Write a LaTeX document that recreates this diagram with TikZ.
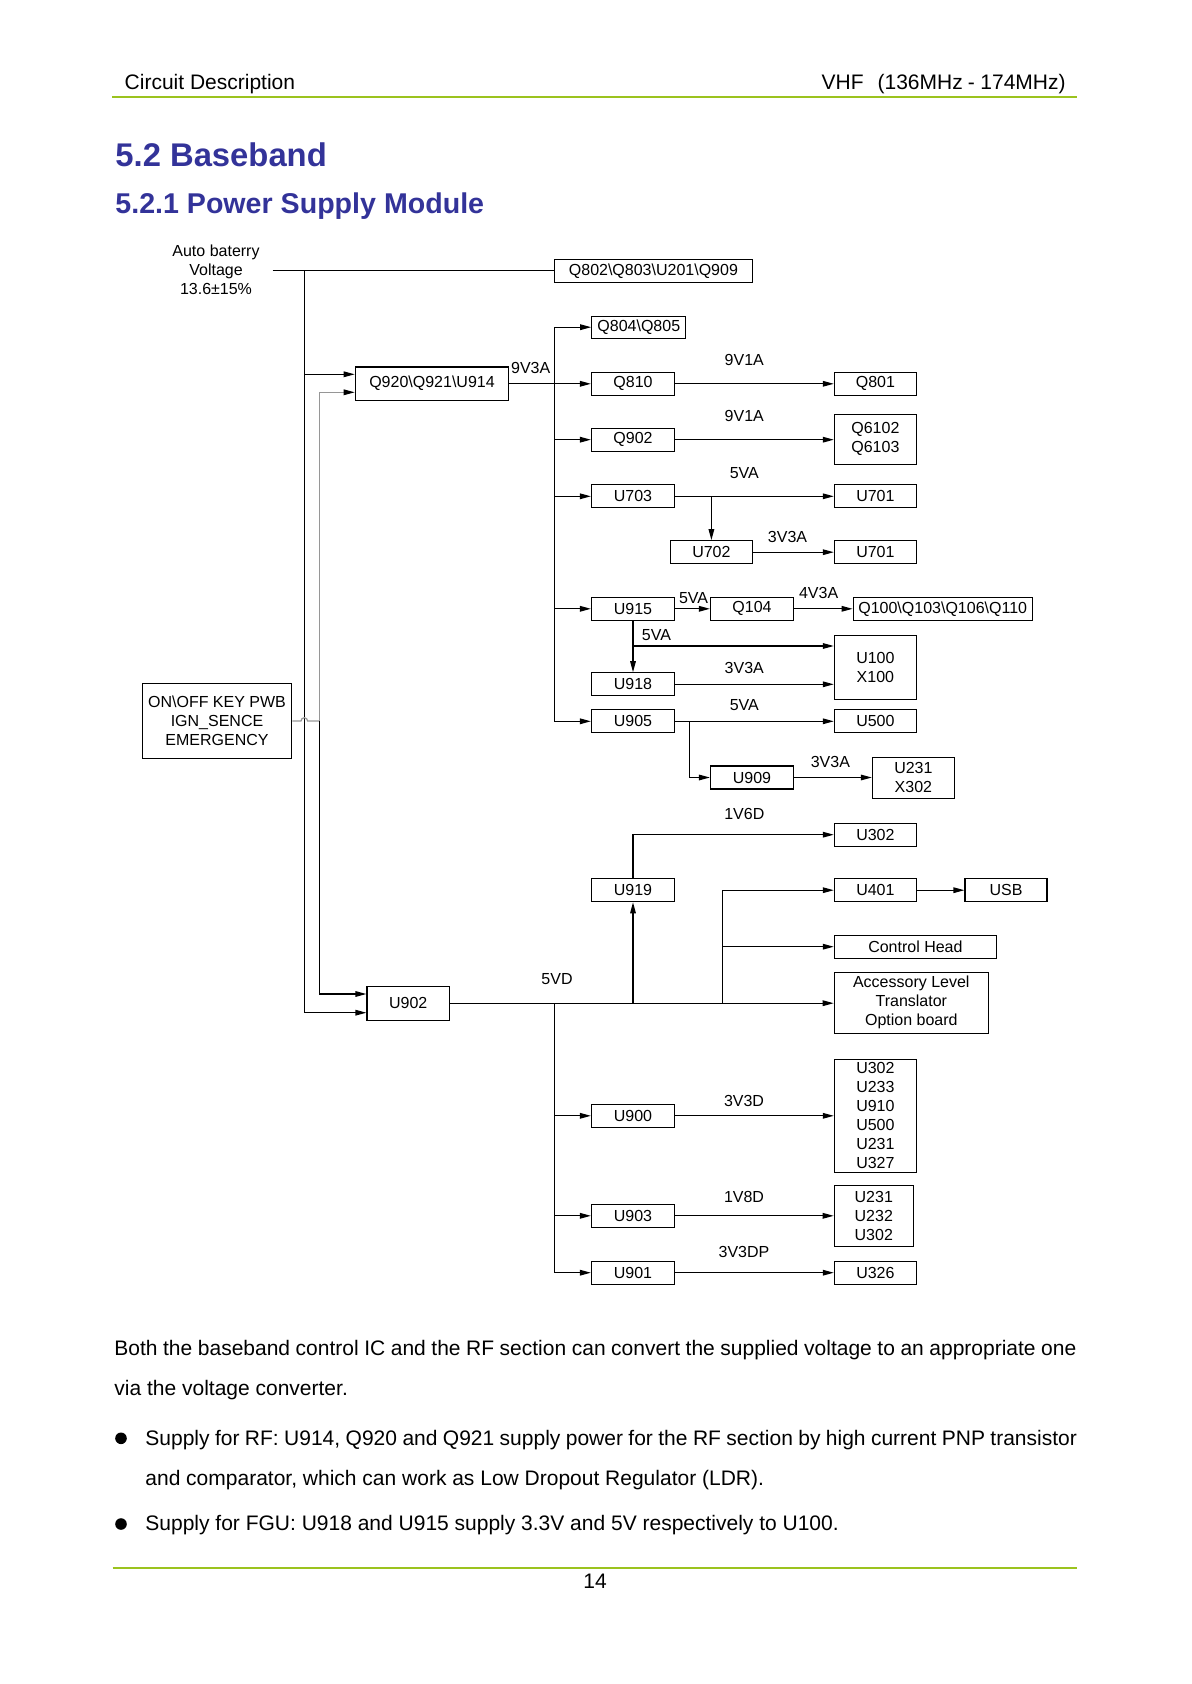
\documentclass[tikz,border=0pt]{standalone}
\usepackage{fontspec}
\setmainfont{Liberation Sans}
\usepackage{tikz}
\usetikzlibrary{positioning, arrows.meta, calc}
\definecolor{hdrgreen}{RGB}{155,195,30}
\definecolor{titleblue}{RGB}{51,51,153}
\definecolor{wiregray}{RGB}{150,150,150}
\newcommand{\bsl}{\textbackslash}
\tikzset{
	blk/.style={draw, line width=0.6pt, inner sep=0pt, minimum width=41.5pt, minimum height=11.5pt, align=center, font=\fontsize{8}{9.5}\selectfont},
	lbl/.style={inner sep=0pt, font=\fontsize{8}{9.5}\selectfont},
	conn/.style={line width=0.6pt, -{Triangle[length=5.5pt,width=2.8pt,color=black]}},
	wire/.style={line width=0.6pt},
	body/.style={inner sep=0pt, anchor=base west, font=\fontsize{10.5}{20}\selectfont},
}

\begin{document}
\begin{tikzpicture}[x=0.5pt, y=-0.5pt]
		\useasboundingbox (0,0) rectangle (1191,1684);
		% page head
		\node[body] (hdl) at (124.3,89.5) {Circuit Description};
		\node[body, anchor=base east] (hdr) at (1066,89.5) {VHF\hspace{7pt}(136MHz\hspace{2.5pt}-\hspace{2.8pt}174MHz)};
		\draw[hdrgreen, line width=1pt] (112.3,96.7) -- (1076.7,96.7);
		\node[body, font=\fontsize{16.4}{19}\selectfont\bfseries, text=titleblue] (sec) at (115,166.7) {5.2 Baseband};
		\node[body, font=\fontsize{14.3}{17}\selectfont\bfseries, text=titleblue] (subsec) at (115,214) {5.2.1 Power Supply Module};

		% sources
		\node[lbl, align=center] (bat) at (216,270) {Auto baterry\\Voltage\\13.6±15\%};
		\coordinate (batin) at (272.7,270.7);
		\coordinate (mtop) at (304.3,270.7);
		\node[blk, minimum width=74.7pt, minimum height=37.5pt] (onoff) at (217,721) {ON\bsl OFF KEY PWB\\IGN\_SENCE\\EMERGENCY};
		\coordinate (gj) at (319.3,721);

		% blocks
		\node[blk, minimum width=99pt] (q802) at (653.4,270.8) {Q802\bsl Q803\bsl U201\bsl Q909};
		\node[blk, minimum width=76.7pt, minimum height=16.7pt] (q920) at (432,383.7) {Q920\bsl Q921\bsl U914};
		\node[blk, minimum width=47pt, minimum height=11pt] (q804) at (638.8,327.2) {Q804\bsl Q805};
		\node[blk] (q810) at (633,383.8) {Q810};
		\node[blk] (q902) at (633,439.7) {Q902};
		\node[blk] (u703) at (633,496.3) {U703};
		\node[blk, minimum width=41pt] (u702) at (711.4,552.2) {U702};
		\node[blk] (u915) at (633,608.8) {U915};
		\node[blk] (q104) at (752,608.8) {Q104};
		\node[blk] (u918) at (633,684.3) {U918};
		\node[blk] (u905) at (633,721.3) {U905};
		\node[blk] (u909) at (752,777.5) {U909};
		\node[blk, minimum width=41.2pt, minimum height=16.9pt] (u902) at (408.2,1003.2) {U902};
		\node[blk] (u919) at (633,890.2) {U919};
		\node[blk] (u900) at (633,1115.8) {U900};
		\node[blk] (u903) at (633,1215.8) {U903};
		\node[blk] (u901) at (633,1272.7) {U901};

		% loads
		\node[blk, minimum width=41pt] (q801) at (875.4,383.8) {Q801};
		\node[blk, minimum width=41pt, minimum height=25pt] (q6102) at (875.4,439.2) {Q6102\\Q6103};
		\node[blk, minimum width=41pt] (u701a) at (875.4,496.3) {U701};
		\node[blk, minimum width=41pt] (u701b) at (875.4,552.2) {U701};
		\node[blk, minimum width=89.5pt] (q100) at (942.7,608.8) {Q100\bsl Q103\bsl Q106\bsl Q110};
		\node[blk, minimum width=41pt, minimum height=32pt] (u100) at (875.4,667.3) {U100\\X100};
		\node[blk, minimum width=41pt] (u500) at (875.4,721.3) {U500};
		\node[blk, minimum width=41pt, minimum height=20.5pt] (u231x) at (913.4,777.8) {U231\\X302};
		\node[blk, minimum width=41pt] (u302a) at (875.4,834.7) {U302};
		\node[blk, minimum width=41pt] (u401) at (875.4,890.2) {U401};
		\node[blk, minimum width=41pt] (usb) at (1006,890.2) {USB};
		\node[blk, minimum width=81pt] (ctrl) at (915.4,946.7) {Control Head};
		\node[blk, minimum width=77pt, minimum height=30.5pt] (acc) at (911.3,1002.8) {Accessory Level\\Translator\\Option board};
		\node[blk, minimum width=41pt, minimum height=56.5pt] (u302b) at (875.4,1115.8) {U302\\U233\\U910\\U500\\U231\\U327};
		\node[blk, minimum width=39.5pt, minimum height=30.5pt] (u231b) at (873.8,1215.8) {U231\\U232\\U302};
		\node[blk, minimum width=41pt] (u326) at (875.4,1272.7) {U326};

		% rail names
		\node[lbl] (l9v3a) at (530.7,367.7) {9V3A};
		\node[lbl] (l9v1a) at (744.3,360) {9V1A};
		\node[lbl] (l9v1b) at (744.3,415.7) {9V1A};
		\node[lbl] (l5va) at (744.3,472.7) {5VA};
		\node[lbl] (l3v3a) at (787.5,536.7) {3V3A};
		\node[lbl] (l5vb) at (693.6,598.3) {5VA};
		\node[lbl] (l4v3a) at (818.6,592.7) {4V3A};
		\node[lbl] (l5vc) at (656.4,635) {5VA};
		\node[lbl] (l3v3b) at (744.3,667.7) {3V3A};
		\node[lbl] (l5vd) at (744.3,705.3) {5VA};
		\node[lbl] (l3v3c) at (830.4,761.7) {3V3A};
		\node[lbl] (l1v6d) at (744.3,814) {1V6D};
		\node[lbl] (l5vdd) at (557,979.3) {5VD};
		\node[lbl] (l3v3d) at (744,1100.7) {3V3D};
		\node[lbl] (l1v8d) at (744,1196.7) {1V8D};
		\node[lbl] (l3v3dp) at (744,1252.3) {3V3DP};

		% battery feed
		\draw[wire] (batin) -- (batin -| q802.west);
		\draw[conn] (mtop) |- ([yshift=4.7pt]q920.west);
		\draw[conn] (mtop) |- ([yshift=-4.75pt]u902.west);
		\draw[wire, wiregray] (onoff.east) -- (301,721) arc[start angle=180, end angle=0, radius=1.65pt] -- (gj);
		\draw[conn, wiregray] (gj) |- ([yshift=-4.3pt]q920.west);
		\draw[conn] (gj) |- ([yshift=4.6pt]u902.west);

		% 9V3A rail
		\coordinate (b9top) at (554.3,327.2);
		\draw[wire] (q920.east) -- (q920.east -| b9top);
		\draw[wire] (b9top) -- (b9top |- u905.west);
		\foreach \n in {q804,q810,q902,u703,u915,u905}
			\draw[conn] (b9top |- \n.west) -- (\n.west);
		\draw[conn] (q810.east) -- (q810.east -| q801.west);
		\draw[conn] (q902.east) -- (q902.east -| q6102.west);
		\draw[conn] (u703.east) -- (u703.east -| u701a.west);
		\draw[conn] (u703.east -| u702.north) -- (u702.north);
		\draw[conn] (u702.east) -- (u702.east -| u701b.west);
		\draw[conn] (u915.east) -- (q104.west);
		\draw[conn] (q104.east) -- (q100.west);
		\draw[conn] (u915.south) -- (u918.north);
		\coordinate (j5va) at (633,646);
		\draw[conn] (j5va) -- (j5va -| u100.west);
		\draw[conn] (u918.east) -- (u918.east -| u100.west);
		\draw[conn] (u905.east) -- (u905.east -| u500.west);
		\coordinate (j905) at (689.3,721.3);
		\draw[conn] (j905) |- (u909.west);
		\draw[conn] (u909.east) -- (u909.east -| u231x.west);

		% 5VD rail
		\draw[conn] (u902.east) -- (u902.east -| acc.west);
		\draw[conn] (u902.east -| u919.south) -- (u919.south);
		\draw[conn] (u919.north) |- (u302a.west);
		\coordinate (j5vd) at (722.5,1003.2);
		\draw[conn] (j5vd) |- (u401.west);
		\draw[conn] (j5vd |- ctrl.west) -- (ctrl.west);
		\draw[conn] (u401.east) -- (usb.west);
		\coordinate (b5top) at (554.3,1003.2);
		\draw[wire] (b5top) -- (b5top |- u901.west);
		\foreach \n in {u900,u903,u901}
			\draw[conn] (b5top |- \n.west) -- (\n.west);
		\draw[conn] (u900.east) -- (u900.east -| u302b.west);
		\draw[conn] (u903.east) -- (u903.east -| u231b.west);
		\draw[conn] (u901.east) -- (u901.east -| u326.west);

		% text below
		\node[body] (p1a) at (114,1355) {\makebox[481pt][s]{Both the baseband control IC and the RF section can convert the supplied voltage to an appropriate one}};
		\node[body] (p1b) at (114,1395) {via the voltage converter.};
		\node[circle, fill, inner sep=0pt, minimum size=5.8pt] (dot1) at (121,1438.3) {};
		\node[body] (b1a) at (145,1445) {\makebox[465.75pt][s]{Supply for RF: U914, Q920 and Q921 supply power for the RF section by high current PNP transistor}};
		\node[body] (b1b) at (145,1485) {and comparator, which can work as Low Dropout Regulator (LDR).};
		\node[circle, fill, inner sep=0pt, minimum size=5.8pt] (dot2) at (121,1524) {};
		\node[body] (b2a) at (145,1530.7) {Supply for FGU: U918 and U915 supply 3.3V and 5V respectively to U100.};
		\draw[hdrgreen, line width=1pt] (112.5,1567.5) -- (1076.5,1567.5);
		\node[body, anchor=base] (pgno) at (595,1588.3) {14};
\end{tikzpicture}
\end{document}
